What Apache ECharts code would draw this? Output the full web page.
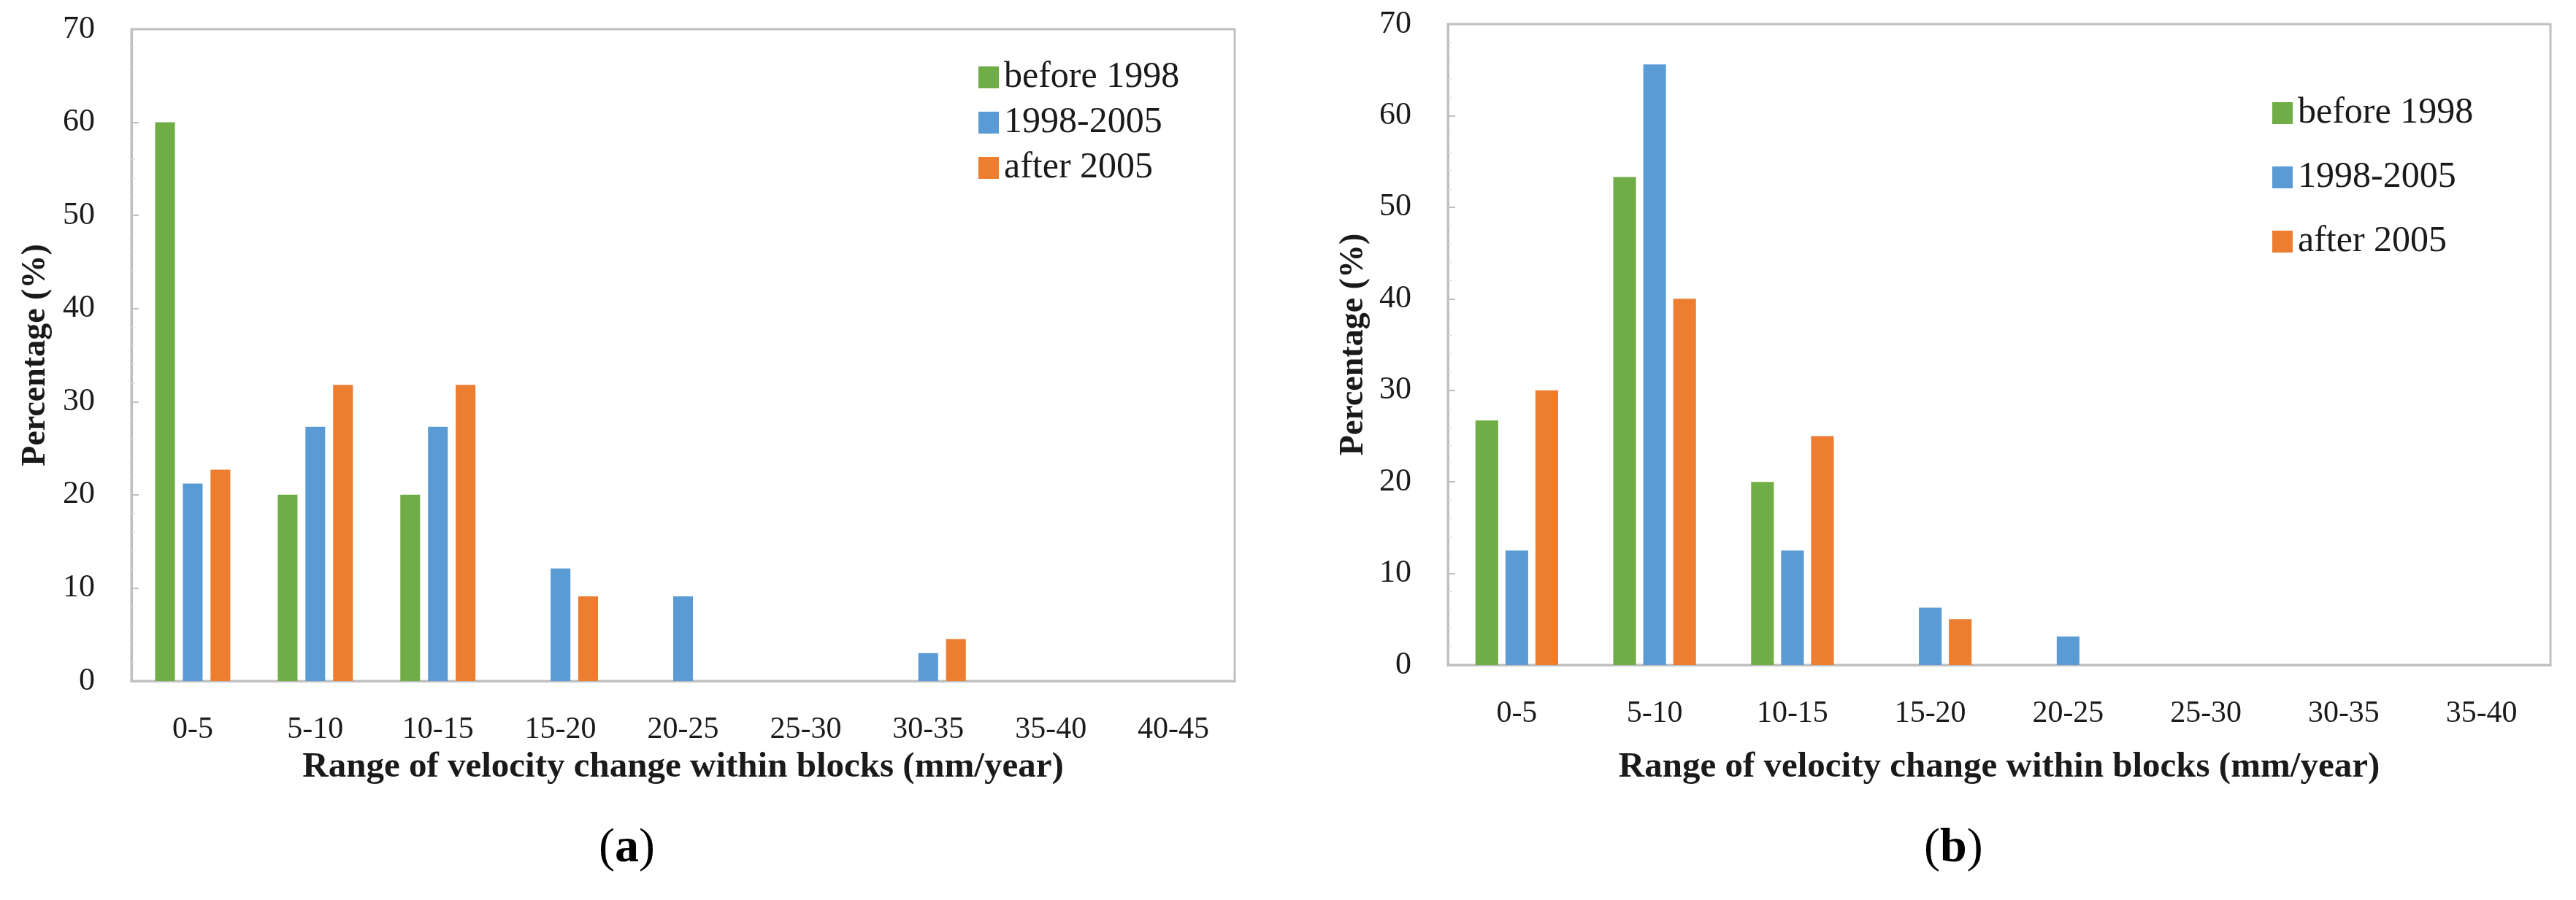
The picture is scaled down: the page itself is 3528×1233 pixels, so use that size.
<!DOCTYPE html>
<html>
<head>
<meta charset="utf-8">
<script src="https://cdn.jsdelivr.net/npm/echarts@6/dist/echarts.min.js"></script>
<style>
html,body{margin:0;padding:0;background:#fff;}
#c{width:3528px;height:1233px;}
</style>
</head>
<body>
<div id="c"></div>
<script>
// ---- data ----
const seriesNames = ['before 1998', '1998-2005', 'after 2005'];
const colors = ['#70AD47', '#5B9BD5', '#ED7D31'];

const catsA = ['0-5', '5-10', '10-15', '15-20', '20-25', '25-30', '30-35', '35-40', '40-45'];
const before1998A = [60, 20, 20, 0, 0, 0, 0, 0, 0];
const mid1998A   = [21.2, 27.3, 27.3, 12.1, 9.1, 0, 3.0, 0, 0];
const after2005A = [22.7, 31.8, 31.8, 9.1, 0, 0, 4.5, 0, 0];

const catsB = ['0-5', '5-10', '10-15', '15-20', '20-25', '25-30', '30-35', '35-40'];
const before1998B = [26.7, 53.3, 20, 0, 0, 0, 0, 0];
const mid1998B   = [12.5, 65.6, 12.5, 6.25, 3.1, 0, 0, 0];
const after2005B = [30, 40, 25, 5, 0, 0, 0, 0];

const yTicks = [0, 10, 20, 30, 40, 50, 60, 70];
const xTitle = 'Range of velocity change within blocks (mm/year)';
const yTitle = 'Percentage (%)';

// ---- chart ----
const FONT = 'Liberation Serif';
const AX = '#BFBFBF';
const chart = echarts.init(document.getElementById('c'), null, {renderer: 'canvas'});

function xAxis(idx, cats, nameGap) {
  return {
    type: 'category', gridIndex: idx, data: cats,
    axisLine: {lineStyle: {color: AX, width: 3}},
    axisTick: {show: false},
    axisLabel: {fontFamily: FONT, fontSize: 42, color: '#1a1a1a', margin: 46},
    name: xTitle, nameLocation: 'middle', nameGap: nameGap,
    nameTextStyle: {fontFamily: FONT, fontSize: 49, fontWeight: 'bold', color: '#1a1a1a'}
  };
}
function yAxis(idx, nameGap) {
  return {
    type: 'value', gridIndex: idx, min: yTicks[0], max: yTicks[yTicks.length - 1], interval: 10,
    axisLine: {show: true, lineStyle: {color: AX, width: 3}},
    axisTick: {show: true, inside: true, length: 10, lineStyle: {color: AX, width: 2}},
    minorTick: {show: true, splitNumber: 5, length: 5, lineStyle: {color: '#D9D9D9', width: 1}},
    splitLine: {show: false},
    axisLabel: {fontFamily: FONT, fontSize: 44, color: '#1a1a1a', margin: 50},
    name: yTitle, nameLocation: 'middle', nameGap: nameGap, nameRotate: 90,
    nameTextStyle: {fontFamily: FONT, fontSize: 46, fontWeight: 'bold', color: '#1a1a1a'}
  };
}
function bars(idx, arrs, catGap, barGap) {
  return arrs.map((d, i) => ({
    name: seriesNames[i], type: 'bar', xAxisIndex: idx, yAxisIndex: idx,
    data: d, barCategoryGap: catGap, barGap: barGap,
    itemStyle: {color: colors[i]}, emphasis: {disabled: true}
  }));
}
function legend(left, top, gap) {
  return {
    orient: 'vertical', left: left, top: top, icon: 'rect',
    itemWidth: 28, itemHeight: 30, itemGap: gap,
    data: seriesNames, selectedMode: false,
    textStyle: {fontFamily: FONT, fontSize: 50, color: '#1a1a1a', lineHeight: 50, padding: [0, 0, 0, 2]}
  };
}

chart.setOption({
  animation: false,
  backgroundColor: '#fff',
  grid: [
    {left: 180, top: 40, width: 1511, height: 893, show: true, borderColor: AX, borderWidth: 3, backgroundColor: 'transparent'},
    {left: 1983, top: 33, width: 1510, height: 878, show: true, borderColor: AX, borderWidth: 3, backgroundColor: 'transparent'}
  ],
  xAxis: [xAxis(0, catsA, 94), xAxis(1, catsB, 116)],
  yAxis: [yAxis(0, 108), yAxis(1, 106)],
  legend: [legend(1335, 76, 12), legend(3107, 125, 38)],
  series: [].concat(
    bars(0, [before1998A, mid1998A, after2005A], '38.7%', '40%'),
    bars(1, [before1998B, mid1998B, after2005B], '40%', '32%')
  ),
  graphic: [
    {type: 'text', left: 860 - 40, top: 1130, style: {text: '{p|(}{b|a}{p|)}', rich: {
      p: {fontFamily: FONT, fontSize: 66, fill: '#000'}, b: {fontFamily: FONT, fontSize: 66, fontWeight: 'bold', fill: '#000'}}}},
    {type: 'text', left: 2675 - 40, top: 1130, style: {text: '{p|(}{b|b}{p|)}', rich: {
      p: {fontFamily: FONT, fontSize: 66, fill: '#000'}, b: {fontFamily: FONT, fontSize: 66, fontWeight: 'bold', fill: '#000'}}}}
  ]
});
</script>
</body>
</html>
